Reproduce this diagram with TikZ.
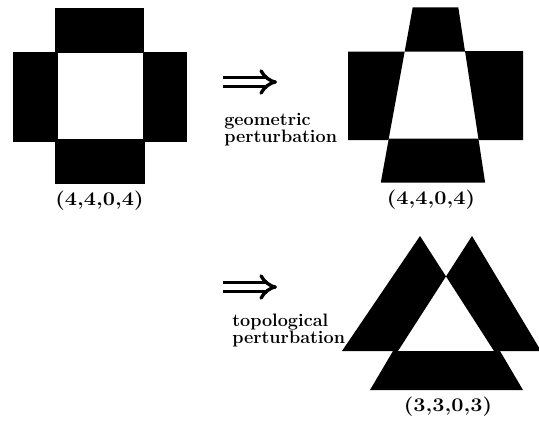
\documentclass[tikz,border=0pt]{standalone}
\usepackage{graphicx}
\usetikzlibrary{arrows.meta}
\begin{document}
\begin{tikzpicture}[x=0.75pt,y=-0.75pt,
  ink/.style={fill=black},
  caption/.style={font=\fontsize{13.5}{12}\selectfont\bfseries, inner sep=0pt, anchor=base west},
  tuple/.style={font=\fontsize{14.5}{16}\selectfont\bfseries, inner sep=0pt, anchor=base},
  implies/.style={line width=2.5pt, double distance=3.8pt, -{Implies}}]
\useasboundingbox (0,0) rectangle (539,421);

% square hole framed by four blocks
\fill[ink] (55,8) rectangle (144,53);
\fill[ink] (13,52) rectangle (58,142);
\fill[ink] (143,52) rectangle (187,142);
\fill[ink] (55,139) rectangle (145,184);
\node[tuple] (t1) at (99.5,205) {\scalebox{1.12}[1]{(4,4,0,4)}};

% geometric step
\coordinate (g0) at (223,82);
\coordinate (g1) at (277,82);
\draw[implies] (g0) -- (g1);
\node[caption] (geo) at (224,125) {\begin{tabular}[t]{@{}l@{}}geometric\\perturbation\end{tabular}};

% same configuration with slanted vertical sides
\fill[ink] (412.7,7.3) -- (458.3,7.3) -- (465.0,51.5) -- (404.7,51.5) -- cycle;
\fill[ink] (348,51.5) -- (404.7,51.5) -- (388.5,140) -- (348,140) -- cycle;
\fill[ink] (465.0,51) -- (523,51) -- (523,140) -- (478.6,140) -- cycle;
\fill[ink] (388.8,138.5) -- (478.4,138.5) -- (485.1,182.5) -- (380.8,182.5) -- cycle;
\node[tuple] (t2) at (431,204) {\scalebox{1.12}[1]{(4,4,0,4)}};

% topological step
\coordinate (p0) at (223,287);
\coordinate (p1) at (277,287);
\draw[implies] (p0) -- (p1);
\node[caption] (top) at (232,326) {\begin{tabular}[t]{@{}l@{}}topological\\perturbation\end{tabular}};

% two overlapping triangles and a trapezoid below
\fill[ink, even odd rule] (420,236) -- (342,351) -- (494,351) -- cycle
                          (472,236) -- (398,351) -- (541,351) -- cycle;
\fill[ink] (393,351) -- (500,351) -- (523,390) -- (370,390) -- cycle;
\node[tuple] (t3) at (448,411) {\scalebox{1.12}[1]{(3,3,0,3)}};
\end{tikzpicture}
\end{document}
